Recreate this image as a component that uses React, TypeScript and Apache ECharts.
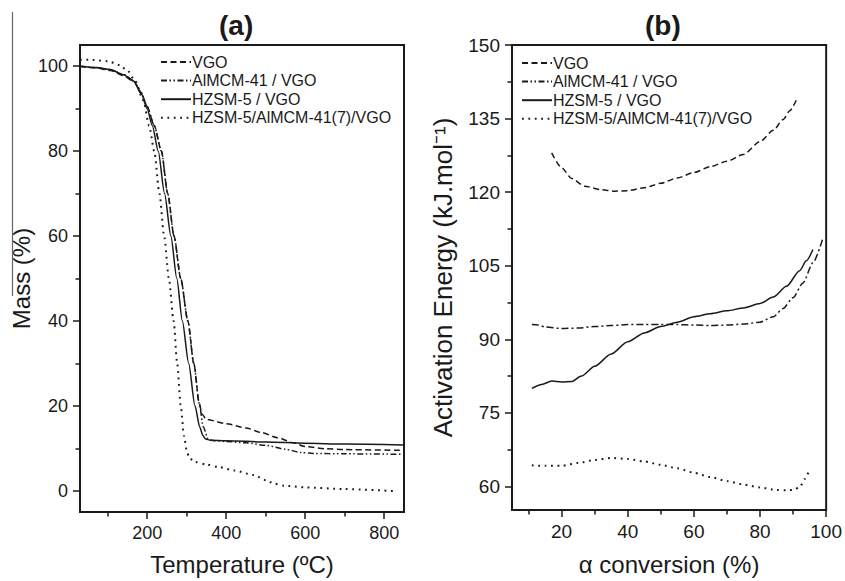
import React, { useEffect, useRef } from "react";
import * as echarts from "echarts";

// ---------- Panel (a): TGA mass vs temperature ----------
const seriesNames = ["VGO", "AlMCM-41 / VGO", "HZSM-5 / VGO", "HZSM-5/AlMCM-41(7)/VGO"];

const vgoT = [30, 70, 107, 140, 166, 185, 200, 218, 236, 252, 268, 285, 303, 318, 332, 339, 350, 400, 450, 490, 530, 570, 600, 650, 700, 850];
const vgoMass = [100, 99.6, 99, 97.8, 96.4, 93.7, 90.5, 86, 80, 70, 60, 50, 40, 30, 20.5, 18, 16.8, 15.8, 14.8, 13.7, 12.5, 11.3, 10.4, 9.9, 9.7, 9.5];

const almcmT = [30, 70, 107, 140, 166, 185, 200, 218, 236, 252, 268, 285, 303, 318, 332, 342, 355, 370, 400, 450, 500, 550, 590, 620, 700, 850];
const almcmMass = [100, 99.7, 99.2, 98, 96.6, 93.8, 90.5, 86, 80, 70, 60, 50, 40, 30, 20.5, 15, 12, 11.8, 11.6, 11.3, 10.7, 9.8, 9, 8.8, 8.7, 8.6];

const hzsmT = [30, 70, 107, 140, 166, 185, 200, 213, 228, 244, 260, 275, 289, 305, 321, 333, 341, 348, 360, 400, 500, 600, 700, 850];
const hzsmMass = [100, 99.7, 99.2, 98, 96.5, 93.5, 90, 86, 80, 70, 60, 50, 40, 30, 20, 15, 13, 12.2, 11.9, 11.8, 11.5, 11.2, 11, 10.8];

const mixT = [30, 60, 100, 130, 150, 170, 190, 205, 218, 231, 243, 255, 267, 276, 285, 293, 300, 306, 320, 350, 380, 420, 470, 500, 521, 546, 600, 700, 830];
const mixMass = [101.5, 101.5, 101.2, 100.3, 99, 96.5, 92, 86, 80, 70, 60, 50, 40, 30, 20, 13, 9.5, 7.8, 6.8, 6.2, 5.6, 4.8, 3.7, 2.5, 1.7, 1.2, 0.8, 0.4, -0.1];

const aXLabels = [200, 400, 600, 800];
const aXMinor = [100, 300, 500, 700];
const aYLabels = [0, 20, 40, 60, 80, 100];
const aYMinor = [10, 30, 50, 70, 90];

// ---------- Panel (b): activation energy vs conversion ----------
const vgoConv = [17, 20, 23, 27, 32, 36, 40, 45, 50, 55, 60, 65, 70, 75, 80, 84, 87, 89, 91];
const vgoEa = [128, 125, 122.8, 121.2, 120.5, 120.2, 120.3, 120.9, 121.8, 122.9, 124, 125.2, 126.3, 127.7, 130.3, 132.6, 134.8, 136.6, 138.8];

const almcmConv = [11, 13, 15, 20, 25, 30, 35, 40, 45, 50, 55, 60, 65, 70, 75, 80, 84, 87, 90, 93, 96, 99];
const almcmEa = [93, 92.9, 92.5, 92.2, 92.3, 92.6, 92.8, 93, 93, 93, 93, 92.9, 92.8, 92.9, 93.1, 93.5, 94.6, 96.3, 98.5, 101.5, 105.6, 110.6];

const hzsmConv = [11, 14, 17, 20, 23, 26, 30, 35, 40, 45, 50, 55, 60, 65, 70, 75, 80, 84, 88, 92, 94, 96];
const hzsmEa = [80, 80.8, 81.5, 81.3, 81.4, 82.5, 84.5, 87, 89.5, 91.3, 92.6, 93.5, 94.6, 95.2, 95.8, 96.4, 97.3, 98.6, 100.8, 104, 106, 108.3];

const mixConv = [11, 15, 20, 25, 30, 35, 40, 45, 50, 55, 60, 65, 70, 75, 80, 85, 88, 90, 92, 93.5, 95];
const mixEa = [64.3, 64.2, 64.2, 64.8, 65.4, 65.8, 65.6, 65.1, 64.4, 63.7, 62.8, 61.9, 61.1, 60.4, 59.8, 59.3, 59.2, 59.3, 59.8, 61.5, 63.5];

const bXLabels = [20, 40, 60, 80, 100];
const bXMinor = [10, 30, 50, 70, 90];
const bYLabels = [60, 75, 90, 105, 120, 135, 150];
const bYMinor = [67.5, 82.5, 97.5, 112.5, 127.5, 142.5];

const zip = (xs: number[], ys: number[]) => xs.map((x, i) => [x, ys[i]]);

const FONT = "'Liberation Sans', Arial, Helvetica, sans-serif";
const INK = "#1a1a1a";

const dashStyles = {
  dashed: [6, 3.5],
  dashDotDot: [6, 2.5, 1.5, 2.5, 1.5, 2.5],
  dashDot: [7, 3, 2, 3],
  solid: "solid" as const,
  dotted: [1.8, 4.6],
};

function majorAxis(min: number, max: number, labels: number[], gridIndex: number, labelSize: number, extra: any) {
  return {
    type: "value",
    gridIndex,
    min,
    max,
    splitLine: { show: false },
    axisLine: { show: true, onZero: false, lineStyle: { color: INK, width: 2 } },
    axisTick: { show: true, inside: false, length: 7, customValues: labels, lineStyle: { color: INK, width: 1.5 } },
    axisLabel: { show: true, customValues: labels, color: INK, fontSize: labelSize, fontFamily: FONT, margin: 12 },
    nameTextStyle: { color: INK, fontSize: 24, fontFamily: FONT },
    ...extra,
  };
}

function minorAxis(min: number, max: number, ticks: number[], gridIndex: number, position: string) {
  return {
    type: "value",
    gridIndex,
    min,
    max,
    position,
    splitLine: { show: false },
    axisLine: { show: false, onZero: false },
    axisTick: { show: true, inside: false, length: 4.5, customValues: ticks, lineStyle: { color: INK, width: 1.5 } },
    axisLabel: { show: false },
  };
}

export default function App() {
  const ref = useRef<HTMLDivElement>(null);

  useEffect(() => {
    if (!ref.current) return;
    const chart = echarts.init(ref.current, null, { renderer: "svg" });

    const lineSeries = (name: string, data: number[][], xi: number, yi: number, type: any, width = 1.5) => ({
      type: "line",
      name,
      data,
      xAxisIndex: xi,
      yAxisIndex: yi,
      symbol: "none",
      smooth: 0.25,
      smoothMonotone: "x",
      lineStyle: { color: INK, width, type },
      itemStyle: { color: INK },
      z: 3,
    });

    const legendBase = {
      orient: "vertical",
      data: seriesNames,
      itemWidth: 30,
      itemHeight: 12,
      itemGap: 2.6,
      selectedMode: false,
      itemStyle: { opacity: 0, borderWidth: 0 },
      textStyle: { color: INK, fontSize: 16, fontFamily: FONT, lineHeight: 16, padding: [0, 0, 0, -4] },
    };

    const option: any = {
      animation: false,
      backgroundColor: "#ffffff",
      grid: [
        { left: 80, top: 45, width: 324, height: 470, show: true, borderColor: INK, borderWidth: 2, backgroundColor: "transparent" },
        { left: 512, top: 45, width: 316, height: 472, show: true, borderColor: INK, borderWidth: 2, backgroundColor: "transparent" },
      ],
      xAxis: [
        majorAxis(30, 850, aXLabels, 0, 18, { name: "Temperature (ºC)", nameLocation: "middle", nameGap: 40 }),
        minorAxis(30, 850, aXMinor, 0, "bottom"),
        majorAxis(5, 100, bXLabels, 1, 19, { name: "α conversion (%)", nameLocation: "middle", nameGap: 42 }),
        minorAxis(5, 100, bXMinor, 1, "bottom"),
      ],
      yAxis: [
        majorAxis(-5, 105, aYLabels, 0, 18, { name: "Mass (%)", nameLocation: "middle", nameGap: 47 }),
        minorAxis(-5, 105, aYMinor, 0, "left"),
        majorAxis(55.2, 150, bYLabels, 1, 19, {
          name: "Activation Energy (kJ.mol⁻¹)",
          nameLocation: "middle",
          nameGap: 56,
          nameTextStyle: { color: INK, fontSize: 26, fontFamily: FONT },
        }),
        minorAxis(55.2, 150, bYMinor, 1, "left"),
      ],
      legend: [
        { ...legendBase, left: 155, top: 49 },
        { ...legendBase, left: 516, top: 50 },
      ],
      series: [
        lineSeries(seriesNames[0], zip(vgoT, vgoMass), 0, 0, dashStyles.dashed),
        lineSeries(seriesNames[1], zip(almcmT, almcmMass), 0, 0, dashStyles.dashDotDot),
        lineSeries(seriesNames[2], zip(hzsmT, hzsmMass), 0, 0, dashStyles.solid),
        lineSeries(seriesNames[3], zip(mixT, mixMass), 0, 0, dashStyles.dotted, 2),
        lineSeries(seriesNames[0], zip(vgoConv, vgoEa), 2, 2, dashStyles.dashed),
        lineSeries(seriesNames[1], zip(almcmConv, almcmEa), 2, 2, dashStyles.dashDot),
        lineSeries(seriesNames[2], zip(hzsmConv, hzsmEa), 2, 2, dashStyles.solid),
        lineSeries(seriesNames[3], zip(mixConv, mixEa), 2, 2, dashStyles.dotted, 2),
      ],
      graphic: [
        { type: "text", left: 219, top: 11, style: { text: "(a)", fontSize: 28, fontWeight: "bold", fontFamily: FONT, fill: INK } },
        { type: "text", left: 645, top: 11, style: { text: "(b)", fontSize: 28, fontWeight: "bold", fontFamily: FONT, fill: INK } },
        { type: "line", shape: { x1: 12.5, y1: 12, x2: 12.5, y2: 296 }, style: { stroke: "#666", lineWidth: 1.2 } },
      ],
    };

    chart.setOption(option);
    return () => chart.dispose();
  }, []);

  return <div ref={ref} style={{ width: 845, height: 581, position: "absolute", left: 0, top: 0, background: "#fff" }} />;
}
